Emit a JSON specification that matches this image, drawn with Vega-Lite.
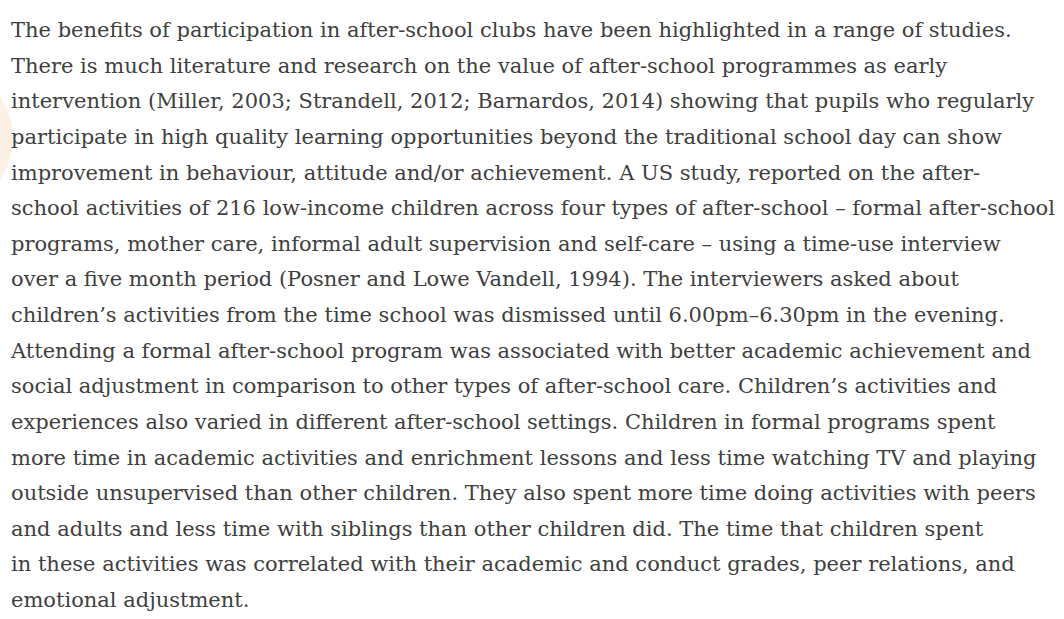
{
  "$schema": "https://vega.github.io/schema/vega-lite/v6.json",
  "width": 1064,
  "height": 619,
  "padding": 0,
  "autosize": {"type": "none"},
  "background": "#ffffff",
  "config": {"view": {"stroke": null}},
  "datasets": {
    "lines": [
      {"line": 1, "text": "The benefits of participation in after-school clubs have been highlighted in a range of studies."},
      {"line": 2, "text": "There is much literature and research on the value of after-school programmes as early"},
      {"line": 3, "text": "intervention (Miller, 2003; Strandell, 2012; Barnardos, 2014) showing that pupils who regularly"},
      {"line": 4, "text": "participate in high quality learning opportunities beyond the traditional school day can show"},
      {"line": 5, "text": "improvement in behaviour, attitude and/or achievement. A US study, reported on the after-"},
      {"line": 6, "text": "school activities of 216 low-income children across four types of after-school – formal after-school"},
      {"line": 7, "text": "programs, mother care, informal adult supervision and self-care – using a time-use interview"},
      {"line": 8, "text": "over a five month period (Posner and Lowe Vandell, 1994). The interviewers asked about"},
      {"line": 9, "text": "children’s activities from the time school was dismissed until 6.00pm–6.30pm in the evening."},
      {"line": 10, "text": "Attending a formal after-school program was associated with better academic achievement and"},
      {"line": 11, "text": "social adjustment in comparison to other types of after-school care. Children’s activities and"},
      {"line": 12, "text": "experiences also varied in different after-school settings. Children in formal programs spent"},
      {"line": 13, "text": "more time in academic activities and enrichment lessons and less time watching TV and playing"},
      {"line": 14, "text": "outside unsupervised than other children. They also spent more time doing activities with peers"},
      {"line": 15, "text": "and adults and less time with siblings than other children did. The time that children spent"},
      {"line": 16, "text": "in these activities was correlated with their academic and conduct grades, peer relations, and"},
      {"line": 17, "text": "emotional adjustment."}
    ],
    "blobs": [
      {"bx": -61, "by": 3.84}
    ]
  },
  "layer": [
    {
      "data": {"name": "blobs"},
      "mark": {"type": "point", "shape": "circle", "filled": true, "color": "#fdf1e5", "opacity": 1, "size": 21904},
      "encoding": {
        "x": {"field": "bx", "type": "quantitative", "scale": {"domain": [0, 1064], "range": [0, 1064]}, "axis": null},
        "y": {"field": "by", "type": "quantitative", "scale": {"domain": [1, 17], "range": [37, 607]}, "axis": null}
      }
    },
    {
      "data": {"name": "lines"},
      "mark": {"type": "text", "align": "left", "baseline": "alphabetic", "font": "DejaVu Serif", "fontSize": 21, "color": "#404040", "x": 11},
      "encoding": {
        "y": {"field": "line", "type": "quantitative", "scale": {"domain": [1, 17], "range": [37, 607]}, "axis": null},
        "text": {"field": "text"}
      }
    }
  ]
}
